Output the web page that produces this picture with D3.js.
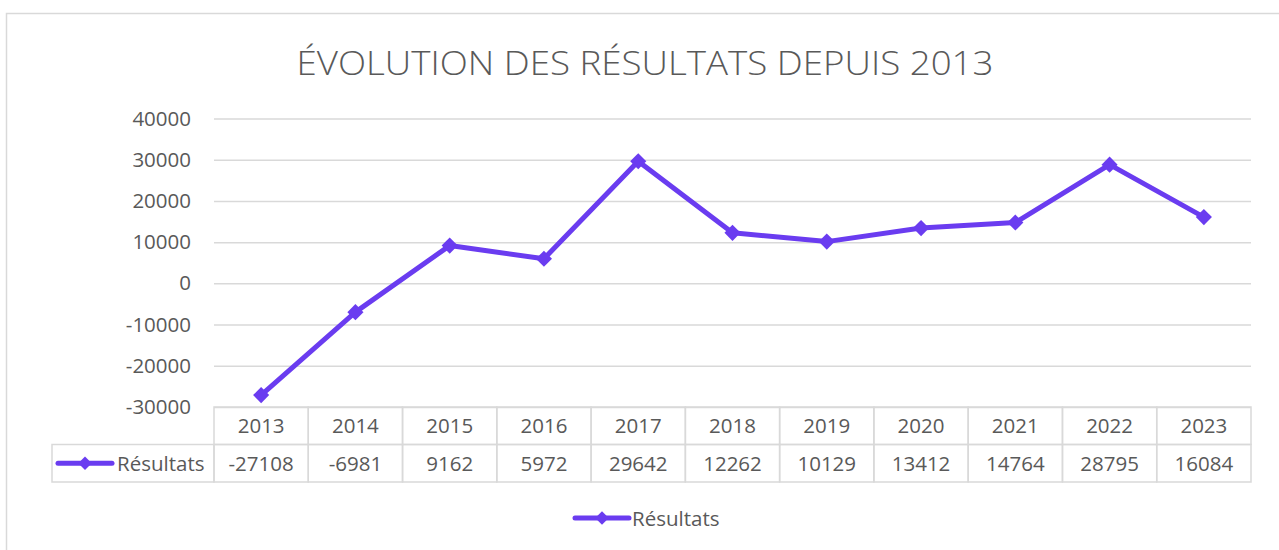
<!DOCTYPE html>
<html><head><meta charset="utf-8">
<script src="https://cdn.jsdelivr.net/npm/d3@7"></script>
<style>
html,body{margin:0;padding:0;background:#fff;}
svg text{font-family:"Open Sans","Noto Sans",sans-serif;}
</style>
</head><body>
<svg id="c" width="1279" height="550"></svg>
<script>
const categories = ["2013","2014","2015","2016","2017","2018","2019","2020","2021","2022","2023"];
const seriesName = "Résultats";
const values = [-27108,-6981,9162,5972,29642,12262,10129,13412,14764,28795,16084];
const yTicks = [-30000,-20000,-10000,0,10000,20000,30000,40000];
const titleText = "ÉVOLUTION DES RÉSULTATS DEPUIS 2013";

const color = "#6A3CF0";
const grid = "#d9d9d9";
const txt = "#595959";
const fs = 20.5;

const svg = d3.select("#c");
svg.append("rect").attr("x",6.5).attr("y",13.5).attr("width",1300).attr("height",600)
  .attr("fill","#fff").attr("stroke","#d9d9d9").attr("stroke-width",1.5);

svg.append("text").attr("x",645).attr("y",75).attr("text-anchor","middle")
  .attr("font-size",33).attr("font-weight",300).attr("fill",txt)
  .attr("textLength",697).attr("lengthAdjust","spacingAndGlyphs").text(titleText);

const L=214, R=1251, T=118.5, B=407;
const x = d3.scaleBand().domain(categories).range([L,R]);
const y = d3.scaleLinear().domain([-30000,40000]).range([B,T]);

// gridlines
const ax = d3.axisLeft(y).tickValues(yTicks).tickSize(-(R-L)).tickPadding(23).tickFormat(d=>String(d));
const g = svg.append("g").attr("transform",`translate(${L},0)`).call(ax);
g.select(".domain").remove();
g.selectAll(".tick line").attr("stroke",grid).attr("stroke-width",1.5);
g.selectAll(".tick text").attr("font-size",fs).attr("fill",txt)
  .attr("font-family","'Open Sans','Noto Sans',sans-serif");

// table
const rowH = 37.5;
const tb = svg.append("g");
const cellStroke = "#d9d9d9";
categories.forEach(c=>{
  tb.append("rect").attr("x",x(c)).attr("y",B).attr("width",x.bandwidth()).attr("height",rowH)
    .attr("fill","none").attr("stroke",cellStroke).attr("stroke-width",1.5);
  tb.append("text").attr("x",x(c)+x.bandwidth()/2).attr("y",B+rowH/2+7.5).attr("text-anchor","middle")
    .attr("font-size",fs).attr("fill",txt).text(c);
});
tb.append("rect").attr("x",52).attr("y",B+rowH).attr("width",L-52).attr("height",rowH)
  .attr("fill","none").attr("stroke",cellStroke).attr("stroke-width",1.5);
categories.forEach((c,i)=>{
  tb.append("rect").attr("x",x(c)).attr("y",B+rowH).attr("width",x.bandwidth()).attr("height",rowH)
    .attr("fill","none").attr("stroke",cellStroke).attr("stroke-width",1.5);
  tb.append("text").attr("x",x(c)+x.bandwidth()/2).attr("y",B+rowH*1.5+7.5).attr("text-anchor","middle")
    .attr("font-size",fs).attr("fill",txt).text(values[i]);
});

function legendKey(gx, gy){
  const k = svg.append("g").attr("transform",`translate(${gx},${gy})`);
  k.append("line").attr("x1",0).attr("x2",54).attr("y1",0).attr("y2",0)
    .attr("stroke",color).attr("stroke-width",5).attr("stroke-linecap","round");
  k.append("path").attr("d",d3.symbol(d3.symbolSquare,90)())
    .attr("transform","translate(27,0) rotate(45)").attr("fill",color);
}
legendKey(58, B+rowH*1.5);
svg.append("text").attr("x",117).attr("y",B+rowH*1.5+7.5).attr("font-size",fs).attr("fill",txt).text(seriesName);

// series line
const line = d3.line().x((d,i)=>x(categories[i])+x.bandwidth()/2).y(d=>y(d));
svg.append("path").datum(values).attr("d",line).attr("fill","none")
  .attr("stroke",color).attr("stroke-width",5).attr("stroke-linejoin","round");
svg.append("g").selectAll("path").data(values).join("path")
  .attr("d",d3.symbol(d3.symbolSquare,130)())
  .attr("transform",(d,i)=>`translate(${x(categories[i])+x.bandwidth()/2},${y(d)}) rotate(45)`)
  .attr("fill",color);

// bottom legend
legendKey(575, 518);
svg.append("text").attr("x",632).attr("y",525.5).attr("font-size",fs).attr("fill",txt).text(seriesName);
</script>
</body></html>
